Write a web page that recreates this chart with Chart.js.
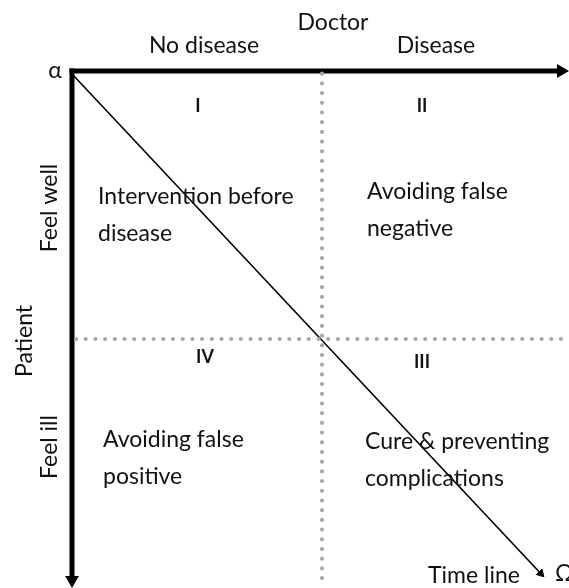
<!DOCTYPE html>
<html>
<head>
<meta charset="utf-8">
<script src="https://cdn.jsdelivr.net/npm/chart.js@4"></script>
<style>
  html, body { margin: 0; padding: 0; background: #fff; }
  canvas { display: block; }
</style>
</head>
<body>
<canvas id="diagram" width="569" height="588"></canvas>
<script>
// Doctor / patient quadrant diagram.  Diagram units: the alpha corner
// is (0, 0) and the two dotted dividers sit at x = 1 and y = 1.

const doctorTitle = 'Doctor';
const doctorCategories = ['No disease', 'Disease'];
const patientTitle = 'Patient';
const patientCategories = ['Feel well', 'Feel ill'];
const quadrantNumerals = ['I', 'II', 'III', 'IV'];
const quadrantTexts = [
  ['Intervention before', 'disease'],
  ['Avoiding false', 'negative'],
  ['Cure & preventing', 'complications'],
  ['Avoiding false', 'positive']
];
const timelineLabel = 'Time line';
const startLabel = '\u03b1';
const endLabel = '\u03a9';

// line marks, in diagram units
const doctorAxisX = [0, 1.956];
const doctorAxisY = [0, 0];
const patientAxisX = [0, 0];
const patientAxisY = [0, 1.899];
const timelineX = [0.004, 1.875];
const timelineY = [0.015, 1.875];
const dividerVX = [1, 1];
const dividerVY = [0.01, 1.90];
const dividerHX = [0.016, 1.99];
const dividerHY = [1, 1];

const FONT = 'Lato, "Open Sans", sans-serif';

function pts(xs, ys) {
  return xs.map((v, i) => ({ x: v, y: ys[i] }));
}

// text layout (diagram units)
const pos = {
  doctor: [1.044, -0.180],
  cats: [[0.528, -0.095], [1.456, -0.095]],
  alpha: [-0.068, -0.003],
  numerals: [[0.504, 0.131], [1.40, 0.131], [1.40, 1.086], [0.532, 1.067]],
  texts: [[0.104, 0.470], [1.18, 0.451], [1.172, 1.384], [0.124, 1.377]],
  patient: [-0.188, 1.007],
  pcats: [[-0.088, 0.511], [-0.088, 1.403]],
  timeline: [1.608, 1.881],
  omega: [1.932, 1.875]
};

const labelPlugin = {
  id: 'labels',
  afterDatasetsDraw(chart) {
    const { ctx, scales: { x, y } } = chart;
    const px = p => [x.getPixelForValue(p[0]), y.getPixelForValue(p[1])];
    ctx.save();
    ctx.fillStyle = '#111';
    ctx.textBaseline = 'middle';
    ctx.textAlign = 'center';
    ctx.font = '23px ' + FONT;
    let p = px(pos.doctor);
    ctx.fillText(doctorTitle, p[0], p[1]);
    doctorCategories.forEach((c, i) => {
      p = px(pos.cats[i]);
      ctx.fillText(c, p[0], p[1]);
    });
    p = px(pos.alpha);
    ctx.fillText(startLabel, p[0], p[1]);

    ctx.font = 'bold 18px ' + FONT;
    quadrantNumerals.forEach((n, i) => {
      p = px(pos.numerals[i]);
      ctx.fillText(n, p[0], p[1]);
    });

    ctx.font = '23px ' + FONT;
    ctx.textAlign = 'left';
    quadrantTexts.forEach((lines, i) => {
      p = px(pos.texts[i]);
      lines.forEach((t, j) => ctx.fillText(t, p[0], p[1] + j * 37));
    });

    ctx.textAlign = 'center';
    p = px(pos.timeline);
    ctx.fillText(timelineLabel, p[0], p[1]);
    ctx.textAlign = 'left';
    p = px(pos.omega);
    ctx.fillText(endLabel, p[0], p[1]);

    ctx.textAlign = 'center';
    const vertical = (t, q) => {
      const r = px(q);
      ctx.save();
      ctx.translate(r[0], r[1]);
      ctx.rotate(-Math.PI / 2);
      ctx.fillText(t, 0, 0);
      ctx.restore();
    };
    vertical(patientTitle, pos.patient);
    patientCategories.forEach((c, i) => vertical(c, pos.pcats[i]));
    ctx.restore();
  }
};

const dotted = {
  showLine: true,
  borderColor: '#a8a8a8',
  borderWidth: 4.2,
  borderDash: [0, 9.7],
  borderCapStyle: 'round',
  pointRadius: 0
};

new Chart(document.getElementById('diagram'), {
  type: 'scatter',
  data: {
    datasets: [
      Object.assign({ data: pts(dividerVX, dividerVY) }, dotted),
      Object.assign({ data: pts(dividerHX, dividerHY) }, dotted),
      {
        data: pts(timelineX, timelineY),
        showLine: true,
        borderColor: '#000',
        borderWidth: 1.6,
        pointRadius: [0, 4.5],
        pointStyle: 'triangle',
        pointRotation: 136.8,
        pointBackgroundColor: '#000',
        pointBorderColor: '#000',
        pointBorderWidth: 1
      },
      {
        data: pts(doctorAxisX, doctorAxisY),
        showLine: true,
        borderColor: '#000',
        borderWidth: 5,
        borderCapStyle: 'square',
        pointRadius: [0, 8],
        pointStyle: 'triangle',
        pointRotation: 90,
        pointBackgroundColor: '#000',
        pointBorderColor: '#000',
        pointBorderWidth: 0
      },
      {
        data: pts(patientAxisX, patientAxisY),
        showLine: true,
        borderColor: '#000',
        borderWidth: 5,
        borderCapStyle: 'square',
        pointRadius: [0, 8],
        pointStyle: 'triangle',
        pointRotation: 180,
        pointBackgroundColor: '#000',
        pointBorderColor: '#000',
        pointBorderWidth: 0
      }
    ]
  },
  options: {
    responsive: false,
    animation: false,
    clip: false,
    layout: { padding: 0, autoPadding: false },
    plugins: { legend: { display: false }, tooltip: { enabled: false } },
    scales: {
      x: { type: 'linear', display: false, min: -0.288, max: 1.988 },
      y: { type: 'linear', display: false, reverse: true, min: -0.265, max: 1.929 }
    }
  },
  plugins: [labelPlugin]
});
</script>
</body>
</html>
